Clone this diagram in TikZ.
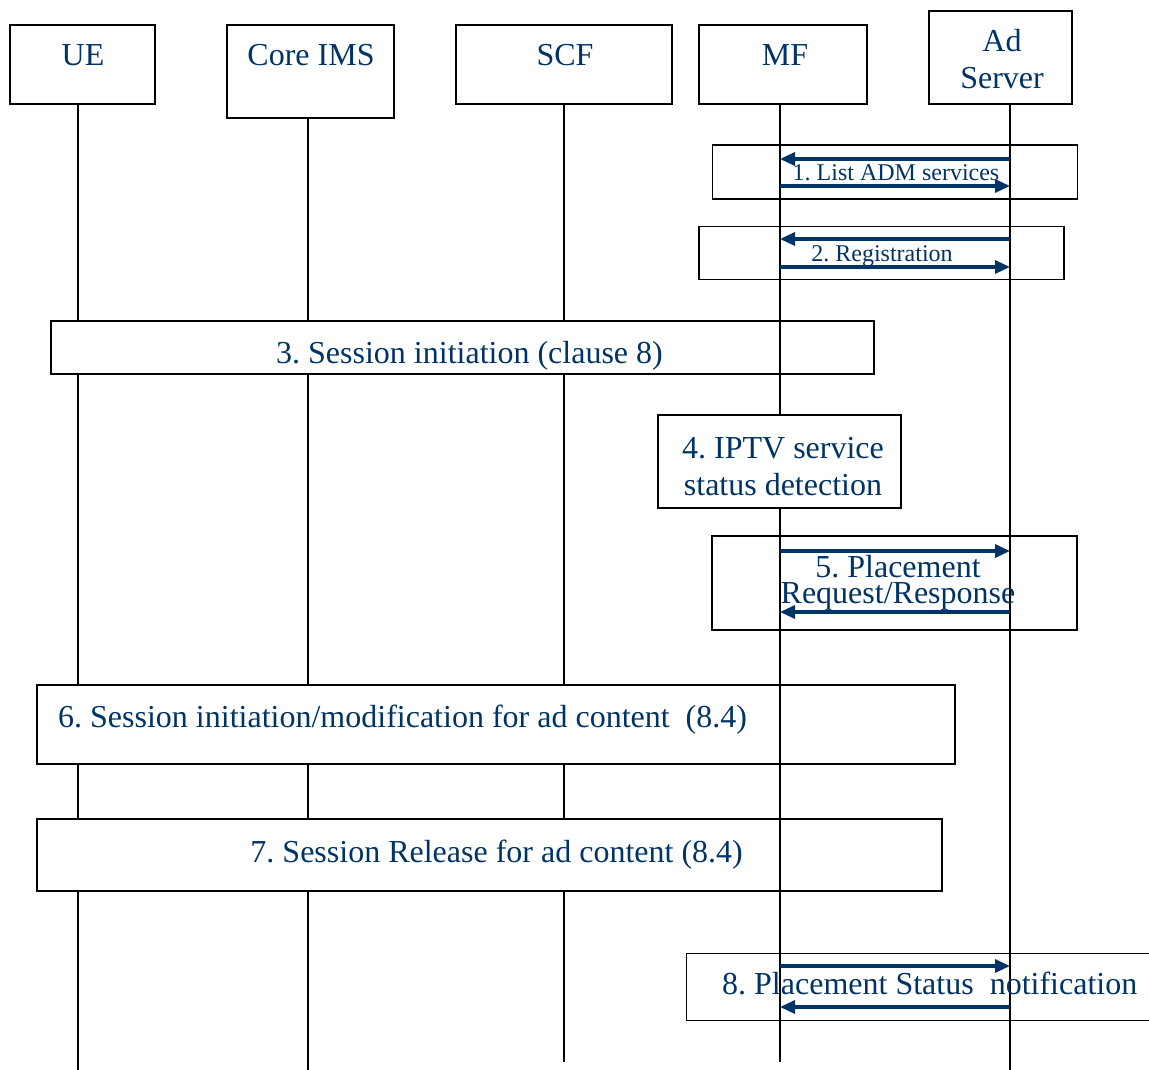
\documentclass[tikz,border=0pt]{standalone}
\usepackage{fontspec}
\setmainfont{Liberation Serif}
\usetikzlibrary{arrows.meta}
\definecolor{txt}{RGB}{0,51,102}
\frenchspacing
\begin{document}
\begin{tikzpicture}[x=1pt,y=-1pt,
  box/.style={draw=black,line width=1.3pt,rectangle,inner sep=0pt},
  wbox/.style={box,fill=white},
  life/.style={draw=black,line width=1.3pt},
  msg/.style={draw=txt,line width=3.2pt,-{Triangle[length=15pt,width=13pt]}},
  big/.style={text=txt,font=\fontsize{32}{37}\selectfont,inner sep=0pt,align=center},
  small/.style={text=txt,font=\fontsize{24}{28}\selectfont,inner sep=0pt}]
\useasboundingbox (0,0) rectangle (1149,1070);
\fill[white] (0,0) rectangle (1149,1070);
% header boxes
\node[box,minimum width=145pt,minimum height=79pt] (ue) at (82.5,64.5) {};
\node[box,minimum width=167pt,minimum height=93pt] (ims) at (310.5,71.5) {};
\node[box,minimum width=216pt,minimum height=79pt] (scf) at (564,64.5) {};
\node[box,minimum width=168pt,minimum height=79pt] (mf) at (783,64.5) {};
\node[box,minimum width=143pt,minimum height=93pt] (ad) at (1000.5,57.5) {};
\node[big,anchor=base] (tue) at (83,66) {UE};
\node[big,anchor=base] (tims) at (311,66) {Core IMS};
\node[big,anchor=base] (tscf) at (565,66) {SCF};
\node[big,anchor=base] (tmf) at (785,66) {MF};
\node[big,anchor=base] (tad) at (1002,89) {Ad\\Server};
% lifeline end coordinates
\coordinate (ueEnd) at (78,1070);
\coordinate (imsEnd) at (308,1070);
\coordinate (scfEnd) at (564,1062);
\coordinate (mfEnd) at (780,1062);
\coordinate (adEnd) at (1010,1070);
\draw[life] (ueEnd |- ue.south) -- (ueEnd);
\draw[life] (imsEnd |- ims.south) -- (imsEnd);
\draw[life] (scfEnd |- scf.south) -- (scfEnd);
% wide boxes hiding UE/IMS/SCF lifelines
\node[wbox,minimum width=823pt,minimum height=53pt] (b3) at (462.5,347.5) {};
\node[wbox,minimum width=918pt,minimum height=79pt] (b6) at (496,724.5) {};
\node[wbox,minimum width=905pt,minimum height=72pt] (b7) at (489.5,855) {};
% MF and Ad lifelines
\draw[life] (mfEnd |- mf.south) -- (mfEnd);
\draw[life] (adEnd |- ad.south) -- (adEnd);
% box 4 hides MF line
\node[wbox,minimum width=243pt,minimum height=93pt] (b4) at (779.5,461.5) {};
% open boxes
\node[box,minimum width=365pt,minimum height=54pt] (b1) at (895,172) {};
\node[box,minimum width=365pt,minimum height=53pt] (b2) at (881.5,253) {};
\node[box,minimum width=365pt,minimum height=94pt] (b5) at (894.5,583) {};
\begin{scope}
\clip (0,0) rectangle (1149,1070);
\node[box,minimum width=500pt,minimum height=67pt,anchor=north west] (b8) at (686,953) {};
\end{scope}
% messages
\draw[msg] (adEnd |- 0,159) -- (mfEnd |- 0,159);
\draw[msg] (mfEnd |- 0,186) -- (adEnd |- 0,186);
\draw[msg] (adEnd |- 0,239) -- (mfEnd |- 0,239);
\draw[msg] (mfEnd |- 0,267) -- (adEnd |- 0,267);
\draw[msg] (mfEnd |- 0,551) -- (adEnd |- 0,551);
\draw[msg] (adEnd |- 0,612) -- (mfEnd |- 0,612);
\draw[msg] (mfEnd |- 0,966) -- (adEnd |- 0,966);
\draw[msg] (adEnd |- 0,1007) -- (mfEnd |- 0,1007);
% labels
\node[small,anchor=base] (t1) at (896,180) {1. List ADM services};
\node[small,anchor=base] (t2) at (882,261) {2. Registration};
\node[big,anchor=base] (t3) at (469.5,363) {3. Session initiation (clause 8)};
\node[big,anchor=base] (t4) at (783,495) {4. IPTV service\\status detection};
\node[big,anchor=base,font=\fontsize{32}{25.5}\selectfont] (t5) at (898,603) {5. Placement\\Request/Response};
\node[big,anchor=base west] (t6) at (58,727) {6. Session initiation/modification for ad content\ \ (8.4)};
\node[big,anchor=base east] (t7) at (743,862) {7. Session Release for ad content (8.4)};
\node[big,anchor=base west] (t8) at (722,994) {8. Placement Status\ \ notification};
\end{tikzpicture}
\end{document}
